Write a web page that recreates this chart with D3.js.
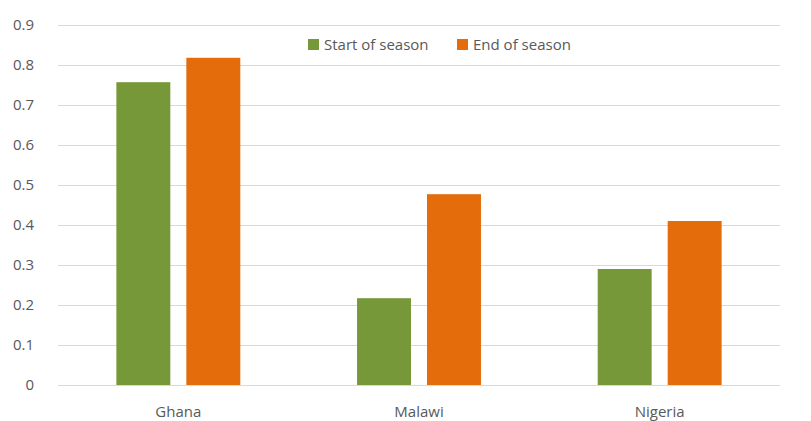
<!DOCTYPE html>
<html><head><meta charset="utf-8">
<script src="https://cdn.jsdelivr.net/npm/d3@7"></script>
<style>body{margin:0;background:#fff;} text{font-family:"Open Sans",sans-serif;}</style>
</head><body><div id="chart"></div>
<script>
var countries = ["Ghana", "Malawi", "Nigeria"];
var seriesNames = ["Start of season", "End of season"];
var startVals = [0.757, 0.217, 0.29];
var endVals = [0.818, 0.477, 0.41];
var yTicks = [0, 0.1, 0.2, 0.3, 0.4, 0.5, 0.6, 0.7, 0.8, 0.9];
var colors = ["#779839", "#e46c0a"];

var width = 811, height = 421;
var svg = d3.select("#chart").append("svg").attr("width", width).attr("height", height);

var y = d3.scaleLinear().domain([0, 0.9]).range([385, 25]);
var x0 = d3.scaleBand().domain(countries).range([58, 780]).paddingInner(0.485).paddingOuter(0.2425);
var x1 = d3.scaleBand().domain(seriesNames).range([0, x0.bandwidth()]).paddingInner(0.229);

svg.append("g").selectAll("line").data(yTicks).enter().append("line")
  .attr("x1", 58).attr("x2", 780)
  .attr("y1", function(d) { return y(d) + 0.5; }).attr("y2", function(d) { return y(d) + 0.5; })
  .attr("stroke", "#d9d9d9").attr("stroke-width", 1);

svg.append("g").selectAll("text").data(yTicks).enter().append("text")
  .attr("x", 34).attr("y", function(d) { return y(d); }).attr("dy", "0.35em")
  .attr("text-anchor", "end").attr("font-size", 15).attr("fill", "#595959")
  .text(function(d) { return d === 0 ? "0" : d3.format(".1f")(d); });

var rows = countries.map(function(c, i) { return {c: c, v: [startVals[i], endVals[i]]}; });
var g = svg.append("g").selectAll("g").data(rows).enter().append("g")
  .attr("transform", function(d) { return "translate(" + x0(d.c) + ",0)"; });
g.selectAll("rect").data(function(d) { return d.v.map(function(v, i) { return {k: seriesNames[i], v: v, i: i}; }); })
  .enter().append("rect")
  .attr("x", function(d) { return x1(d.k); }).attr("width", x1.bandwidth())
  .attr("y", function(d) { return y(d.v); }).attr("height", function(d) { return y(0) - y(d.v); })
  .attr("fill", function(d) { return colors[d.i]; });

svg.append("g").selectAll("text").data(countries).enter().append("text")
  .attr("x", function(d) { return x0(d) + x0.bandwidth() / 2; }).attr("y", 417)
  .attr("text-anchor", "middle").attr("font-size", 15).attr("fill", "#595959").text(function(d) { return d; });

var legX = [308, 457];
var leg = svg.append("g").selectAll("g").data(seriesNames).enter().append("g")
  .attr("transform", function(d, i) { return "translate(" + legX[i] + ",39)"; });
leg.append("rect").attr("width", 11).attr("height", 11).attr("fill", function(d, i) { return colors[i]; });
leg.append("text").attr("x", 16).attr("y", 6).attr("dy", "0.35em").attr("font-size", 15)
  .attr("fill", "#595959").text(function(d) { return d; });
</script></body></html>
